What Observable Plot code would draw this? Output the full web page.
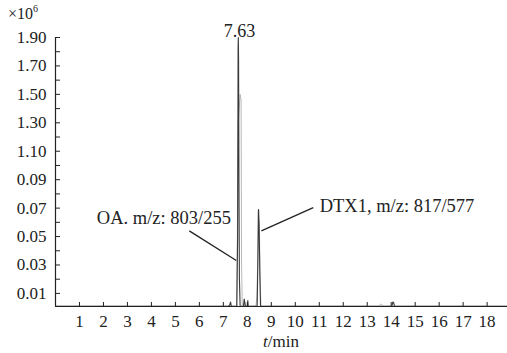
<!DOCTYPE html>
<html>
<head>
<meta charset="utf-8">
<script src="https://cdn.jsdelivr.net/npm/d3@7"></script>
<script src="https://cdn.jsdelivr.net/npm/@observablehq/plot@0.6"></script>
<style>
  html, body { margin: 0; padding: 0; background: #fff; }
  #wrap { position: relative; width: 507px; height: 353px; font-family: "Liberation Serif", "Times New Roman", serif; color: #222; }
  #unit { position: absolute; left: 8px; top: 1px; font-size: 16px; line-height: 18px; }
  #unit sup { font-size: 10px; position: relative; top: -1px; }
  #xlabel { position: absolute; left: 0; width: 507px; padding-left: 55px; box-sizing: border-box; text-align: center; top: 333px; font-size: 17px; line-height: 18px; }
</style>
</head>
<body>
<div id="wrap">
  <div id="chart"></div>
  <div id="unit">×10<sup>6</sup></div>
  <div id="xlabel"><i>t</i>/min</div>
</div>
<script>
// Y axis: broken intensity scale, labels placed at evenly spaced positions (index units)
const yTickLabels = ["0.01", "0.03", "0.05", "0.07", "0.09", "1.10", "1.30", "1.50", "1.70", "1.90"];
const yTickPos = [0, 1, 2, 3, 4, 5, 6, 7, 8, 9];
const yMinorPos = [0.5, 1.5, 2.5, 3.5, 4.5, 5.5, 6.5, 7.5, 8.5];
const yMin = -0.46;
const xTicks = [1, 2, 3, 4, 5, 6, 7, 8, 9, 10, 11, 12, 13, 14, 15, 16, 17, 18];
const xMax = 18.85;

// Quantifier trace (dark) — retention time (min) / signal (axis position units)
const darkTime = [0, 7.22, 7.27, 7.30, 7.33, 7.56, 7.595, 7.615, 7.625, 7.635, 7.65, 7.67, 7.70, 7.84, 7.87, 7.89, 7.92, 8.00, 8.02, 8.04, 8.41, 8.44, 8.46, 8.47, 8.49, 8.52, 8.55, 14.03, 14.07, 14.10, 14.14, 18.85];
const darkSignal = [-0.45, -0.45, -0.40, -0.30, -0.45, -0.45, 2.0, 8.6, 9.0, 8.2, 4.0, 0.5, -0.45, -0.45, -0.20, -0.30, -0.45, -0.45, -0.25, -0.45, -0.45, 1.2, 2.9, 2.95, 2.4, 0.8, -0.45, -0.45, -0.30, -0.32, -0.45, -0.45];

// Qualifier trace (light)
const lightTime = [0, 7.56, 7.585, 7.60, 7.62, 7.70, 7.74, 7.76, 7.79, 7.85, 7.88, 7.90, 8.36, 8.40, 8.43, 8.48, 8.51, 8.53, 8.57, 13.50, 13.55, 13.60, 13.66, 18.85];
const lightSignal = [-0.45, -0.45, 2.0, 3.6, 6.0, 7.0, 6.8, 1.0, -0.45, -0.45, -0.25, -0.45, -0.45, -0.10, 1.0, 2.6, 2.0, 0.5, -0.45, -0.45, -0.38, -0.38, -0.45, -0.45];

// Annotations
const peakLabel = ["7.63"];
const peakLabelTime = [7.63];
const peakLabelSignal = [9.0];
const annoText = ["OA. m/z: 803/255", "DTX1, m/z: 817/577"];
const annoTextTime = [4.52, 14.24];
const annoTextSignal = [2.43, 2.88];
const leaderFromTime = [5.58, 10.75];
const leaderFromSignal = [2.2, 3.02];
const leaderToTime = [7.54, 8.585];
const leaderToSignal = [1.16, 2.2];

const dark = darkTime.map((t, i) => ({t, v: darkSignal[i]}));
const light = lightTime.map((t, i) => ({t, v: lightSignal[i]}));
const annos = annoText.map((s, i) => ({s, t: annoTextTime[i], v: annoTextSignal[i]}));
const leaders = leaderFromTime.map((t, i) => ({x1: t, y1: leaderFromSignal[i], x2: leaderToTime[i], y2: leaderToSignal[i]}));
const peaks = peakLabel.map((s, i) => ({s, t: peakLabelTime[i], v: peakLabelSignal[i]}));

const chart = Plot.plot({
  width: 507,
  height: 353,
  marginLeft: 55,
  marginRight: 0,
  marginTop: 37,
  marginBottom: 47,
  style: {fontFamily: "'Liberation Serif', 'Times New Roman', serif", fontSize: "17px", background: "#fff", color: "#222"},
  x: {domain: [0, xMax]},
  y: {domain: [yMin, 9]},
  marks: [
    Plot.line(light, {x: "t", y: "v", stroke: "#b8b8b8", strokeWidth: 1}),
    Plot.line(dark, {x: "t", y: "v", stroke: "#3a3a3a", strokeWidth: 1.1}),
    Plot.axisX(xTicks, {tickSize: -4, tickFormat: () => "", stroke: "#222"}),
    Plot.axisX(xTicks, {tickSize: 0, tickPadding: 8, tickFormat: d => String(d), fill: "#222", fontSize: 17}),
    Plot.axisY(yTickPos.concat(yMinorPos), {tickSize: -5, tickFormat: () => "", stroke: "#222"}),
    Plot.axisY(yTickPos, {tickSize: 0, tickPadding: 9, tickFormat: d => yTickLabels[d], fill: "#222", fontSize: 17}),
    Plot.ruleX([0], {stroke: "#222", strokeWidth: 1.2}),
    Plot.ruleY([yMin], {stroke: "#222", strokeWidth: 1.2}),
    Plot.link(leaders, {x1: "x1", y1: "y1", x2: "x2", y2: "y2", stroke: "#222", strokeWidth: 1.3}),
    Plot.text(annos, {x: "t", y: "v", text: "s", textAnchor: "middle", lineAnchor: "bottom", fontSize: 18.5, fill: "#222"}),
    Plot.text(peaks, {x: "t", y: "v", text: "s", textAnchor: "middle", lineAnchor: "bottom", dy: -1, dx: 1, fontSize: 18, fill: "#222"})
  ]
});
document.getElementById("chart").appendChild(chart);
</script>
</body>
</html>
